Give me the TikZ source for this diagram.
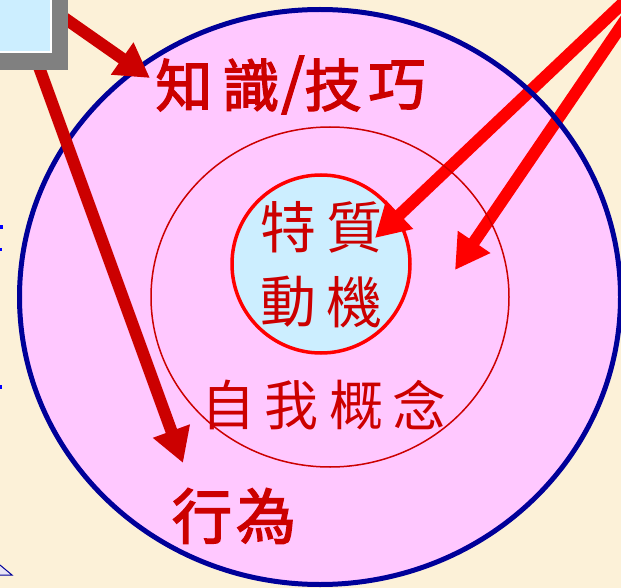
\documentclass[tikz,border=0pt]{standalone}
\usepackage{fontspec}
\newfontfamily\cjk{Noto Sans CJK TC}
\newfontfamily\cjkb{Noto Sans CJK TC}[FakeBold=2.5]
\usetikzlibrary{arrows.meta}
\definecolor{bgbeige}{RGB}{252,241,216}
\definecolor{pinkfill}{RGB}{255,200,255}
\definecolor{lightblue}{RGB}{204,238,255}
\definecolor{navy}{RGB}{0,0,153}
\definecolor{darkred}{RGB}{204,0,0}
\definecolor{brightred}{RGB}{255,0,0}
\definecolor{shadowgrey}{RGB}{128,128,128}
\tikzset{
  bigarrow/.style={line width=12pt, -{Triangle[length=34pt,width=37pt]}},
  thinchar/.style={inner sep=0pt, text=darkred, font=\cjk\fontsize{56}{56}\selectfont},
  selfchar/.style={inner sep=0pt, text=darkred, font=\cjk\fontsize{54}{54}\selectfont},
  boldchar/.style={inner sep=0pt, text=darkred, font=\cjkb\fontsize{57}{57}\selectfont},
}
\begin{document}
\begin{tikzpicture}[x=1pt,y=-1pt]
\useasboundingbox (0,0) rectangle (621,588);
\clip (0,0) rectangle (621,588);
\fill[bgbeige] (0,0) rectangle (621,588);
% left edge fragments
\fill[blue] (0,225) rectangle (2.5,229);
\fill[blue] (0,248) rectangle (1.5,251);
\fill[blue] (0,385) rectangle (1.5,389);
\filldraw[fill=lightblue!70!violet!30, draw=navy, line width=1pt] (0,565) -- (12,575) -- (0,575);
% fills
\fill[pinkfill] (320,297) ellipse [x radius=300.5, y radius=287.5];
\fill[lightblue] (321,264) circle [radius=89];
% far arrows (from off-picture)
\coordinate (src) at (662,-34);
\coordinate (tipA) at (375,238);
\coordinate (tipB) at (455,270);
\draw[bigarrow, brightred] (src) -- (tipA);
\draw[bigarrow, brightred] (src) -- (tipB);
% circle outlines
\draw[navy, line width=5pt] (320,297) ellipse [x radius=300.5, y radius=287.5];
\draw[darkred, line width=1.5pt] (330,297) ellipse [x radius=179, y radius=170];
\draw[brightred, line width=3.5pt] (321,264) circle [radius=89];
% texts
\node[thinchar] (te) at (288,227) {特};
\node[thinchar] (zhi) at (354,227) {質};
\node[thinchar] (dong) at (288,302) {動};
\node[thinchar] (ji) at (354,302) {機};
\node[selfchar] (zi) at (228,405) {自};
\node[selfchar] (wo) at (291,405) {我};
\node[selfchar] (gai) at (356,405) {概};
\node[selfchar] (nian) at (419,405) {念};
\node[boldchar] (k1) at (184,85) {知};
\node[boldchar] (k2) at (251,85) {識};
\node[boldchar, font=\cjkb\fontsize{60}{60}\selectfont] (k3) at (293,85) {/};
\node[boldchar] (k4) at (333,85) {技};
\node[boldchar] (k5) at (397,85) {巧};
\node[boldchar, font=\cjkb\fontsize{60}{60}\selectfont] (x1) at (202,516) {行};
\node[boldchar, font=\cjkb\fontsize{60}{60}\selectfont] (x2) at (266,516) {為};
% near arrows from the box
\coordinate (s1) at (60,15);
\coordinate (s2) at (31,45);
\coordinate (tip1) at (150,78);
\coordinate (tip2) at (183,463);
\draw[bigarrow, darkred] (s1) -- (tip1);
\draw[bigarrow, darkred] (s2) -- (tip2);
% box with shadow
\fill[shadowgrey] (-10,-10) rectangle (68,70);
\node[draw=white, line width=2pt, fill=lightblue, inner sep=0pt, minimum width=61pt, minimum height=62pt] (box) at (20.5,21) {};
\end{tikzpicture}
\end{document}
